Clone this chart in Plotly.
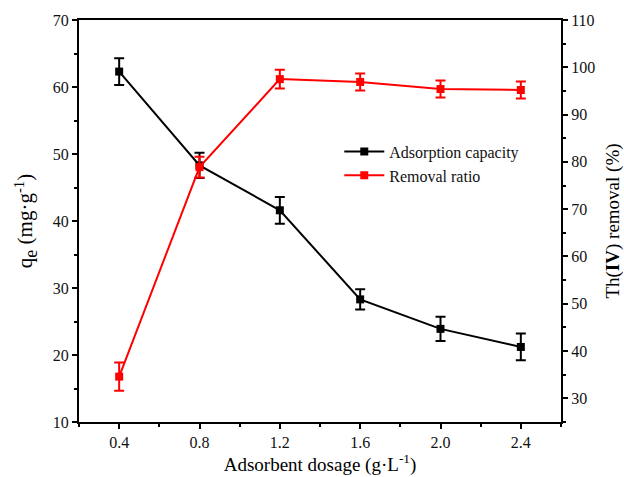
import plotly.graph_objects as go

dosage = [0.4, 0.8, 1.2, 1.6, 2.0, 2.4]
capacity = [62.3, 48.3, 41.6, 28.3, 23.9, 21.2]
capacity_err = [2.0, 1.9, 2.0, 1.5, 1.8, 2.0]
removal = [34.6, 78.9, 97.5, 96.9, 95.4, 95.2]
removal_err = [3.0, 2.2, 2.0, 1.8, 1.8, 1.8]

FONT = "Liberation Serif"

fig = go.Figure()
fig.add_trace(go.Scatter(
    x=dosage, y=capacity, name="Adsorption capacity", mode="lines+markers",
    line=dict(color="black", width=2),
    marker=dict(symbol="square", size=8, color="black"),
    error_y=dict(type="data", array=capacity_err, color="black", thickness=2, width=5),
    yaxis="y"))
fig.add_trace(go.Scatter(
    x=dosage, y=removal, name="Removal ratio", mode="lines+markers",
    line=dict(color="#ff0000", width=2),
    marker=dict(symbol="square", size=8, color="#ff0000"),
    error_y=dict(type="data", array=removal_err, color="#ff0000", thickness=2, width=5),
    yaxis="y2"))

axis_common = dict(showline=True, linecolor="black", linewidth=2, ticks="outside",
                   ticklen=5, tickwidth=2, tickcolor="black", showgrid=False, zeroline=False,
                   automargin=False,
                   tickfont=dict(family=FONT, size=16, color="#111"))

fig.update_layout(
    width=624, height=477,
    margin=dict(l=79, r=63, t=20, b=55),
    plot_bgcolor="white", paper_bgcolor="white",
    font=dict(family=FONT, color="black"),
    xaxis=dict(range=[0.2, 2.6], tickvals=dosage, ticktext=["0.4", "0.8", "1.2", "1.6", "2.0", "2.4"],
               mirror=True,
               minor=dict(dtick=0.2, tick0=0.2, ticklen=3, tickwidth=2, tickcolor="black", ticks="outside"),
               title=dict(text="Adsorbent dosage (g·L<sup>-1</sup>)", font=dict(family=FONT, size=19), standoff=6),
               **axis_common),
    yaxis=dict(range=[10, 70], tickvals=[10, 20, 30, 40, 50, 60, 70],
               minor=dict(dtick=5, tick0=0, ticklen=3, tickwidth=2, tickcolor="black", ticks="outside"),
               title=dict(text="q<sub><span style='font-size:18px'>e</span></sub> (mg·g<sup>-1</sup>)",
                          font=dict(family=FONT, size=21), standoff=14),
               **axis_common),
    yaxis2=dict(range=[25, 110], tickvals=[30, 40, 50, 60, 70, 80, 90, 100, 110],
                overlaying="y", side="right",
                minor=dict(dtick=5, tick0=0, ticklen=3, tickwidth=2, tickcolor="black", ticks="outside"),
                title=dict(text="Th(<b>IV</b>) removal (%)", font=dict(family=FONT, size=19), standoff=12),
                **axis_common),
    legend=dict(x=0.54, y=0.715, xanchor="left", yanchor="top", bgcolor="rgba(0,0,0,0)",
                font=dict(family=FONT, size=16, color="#111"), tracegroupgap=0, itemwidth=40),
    showlegend=True,
)

fig.write_html("out.html")
